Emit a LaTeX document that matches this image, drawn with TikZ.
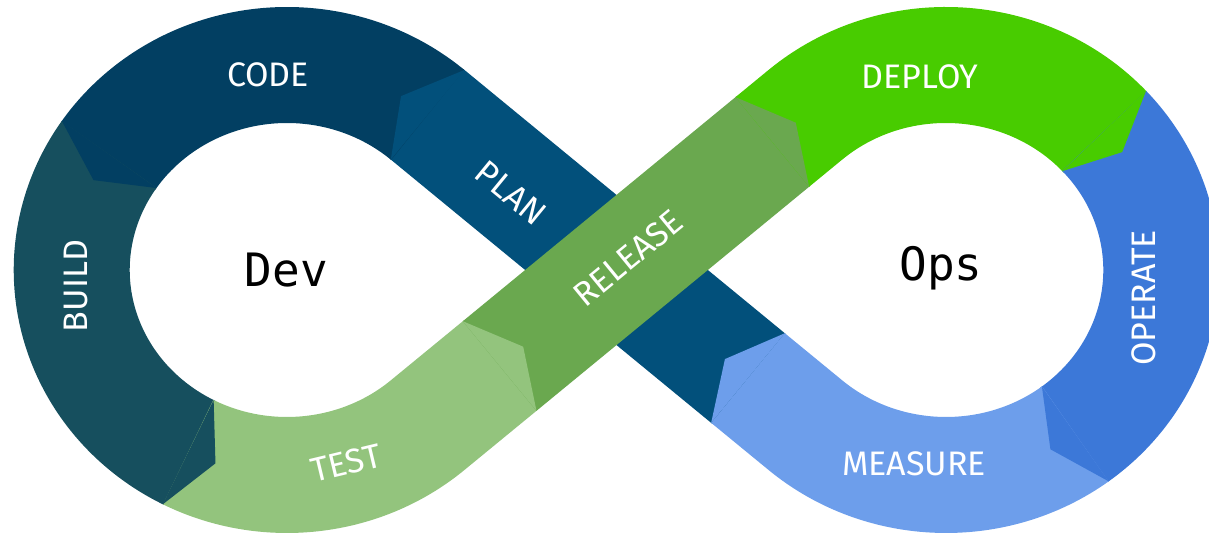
\documentclass[tikz,border=0pt]{standalone}
\usepackage{fontspec}
\setsansfont{Fira Sans}
\newfontfamily\hubfont{DejaVu Sans Mono}
\usetikzlibrary{calc}

\definecolor{codecol}{HTML}{023F62}
\definecolor{plancol}{HTML}{02507B}
\definecolor{buildcol}{HTML}{164F5E}
\definecolor{testcol}{HTML}{93C47D}
\definecolor{releasecol}{HTML}{6AA84F}
\definecolor{deploycol}{HTML}{48CC00}
\definecolor{operatecol}{HTML}{3C78D8}
\definecolor{measurecol}{HTML}{6D9EEB}
\def\hw{58pt}

\begin{document}
\begin{tikzpicture}[x=1pt,y=1pt,
  band/.style={line width=116pt},
  tag/.style={text=white,font=\sffamily\fontsize{34}{34}\selectfont},
  hub/.style={text=black,anchor=base,font=\hubfont\fontsize{46}{46}\selectfont}]
  \useasboundingbox (0,0) rectangle (1209,537);
  \clip (0,0) rectangle (1209,537);
  \begin{scope}[shift={(616.5,267)},xscale=1.05]
    \coordinate (L) at (-313.8,0);
    \coordinate (R) at (313.8,0);
    \draw[band,plancol] (-40.79:167) -- (139.21:239);
    \draw[band,codecol] (L) ++(49.21:205) arc[start angle=49.21,end angle=146.1,radius=205];
    \draw[band,buildcol] (L) ++(145.7:205) arc[start angle=145.7,end angle=243.1,radius=205];
    \draw[band,testcol] (L) ++(242.7:205) arc[start angle=242.7,end angle=310.79,radius=205] -- (220.79:145.5);
    \draw[band,releasecol] (220.79:147) -- (40.79:197.5);
    \draw[band,deploycol] (40.79:196) -- (40.79:237.6) arc[start angle=130.79,end angle=42.3,radius=205];
    \draw[band,operatecol] (R) ++(42.7:205) arc[start angle=42.7,end angle=-53.5,radius=205];
    \draw[band,measurecol] (R) ++(-53.1:205) arc[start angle=-53.1,end angle=-130.79,radius=205] -- (-40.79:165.4);
    \coordinate (plan-b) at (139.21:237.6);
    \coordinate (plan-f) at (139.21:240);
    \path (L) ++(58:205) coordinate (plan-t);
    \path (L) ++(145.7:205) coordinate (code-b) (L) ++(146.2:205) coordinate (code-f) (L) ++(154:205) coordinate (code-t);
    \path (L) ++(242.7:205) coordinate (build-b) (L) ++(243.2:205) coordinate (build-f) (L) ++(250.6:205) coordinate (build-t);
    \coordinate (test-b) at (220.79:147);
    \coordinate (test-f) at (220.79:145);
    \coordinate (test-t) at (220.79:117.4);
    \coordinate (release-b) at (40.79:196);
    \coordinate (release-f) at (40.79:198);
    \coordinate (release-t) at (40.79:225.5);
    \path (R) ++(42.7:205) coordinate (deploy-b) (R) ++(42.2:205) coordinate (deploy-f) (R) ++(35.1:205) coordinate (deploy-t);
    \path (R) ++(-53.1:205) coordinate (operate-b) (R) ++(-53.6:205) coordinate (operate-f) (R) ++(-61:205) coordinate (operate-t);
    \coordinate (measure-b) at (-40.79:165.4);
    \coordinate (measure-f) at (-40.79:163.4);
    \coordinate (measure-t) at (-40.79:136.4);
  \end{scope}
  \foreach \s/\c in {plan/plancol,code/codecol,build/buildcol,test/testcol,release/releasecol,deploy/deploycol,operate/operatecol,measure/measurecol}
    \fill[\c] ($(\s-b)!\hw!90:(\s-f)$) -- (\s-t) -- ($(\s-b)!\hw!-90:(\s-f)$) -- cycle;
  \node[tag] (code) at (268,462) {CODE};
  \node[tag,rotate=-39.4] (plan) at (511,344) {PLAN};
  \node[tag,rotate=90] (build) at (75.5,251) {BUILD};
  \node[tag,rotate=13.5] (test) at (346,74) {TEST};
  \node[tag,rotate=39.4] (release) at (628,279) {RELEASE};
  \node[tag] (deploy) at (920,460) {DEPLOY};
  \node[tag,rotate=90] (operate) at (1144,239) {OPERATE};
  \node[tag] (measure) at (914,73) {MEASURE};
  \node[hub] (dev) at (286.5,250.3) {Dev};
  \node[hub] (ops) at (941,256) {Ops};
\end{tikzpicture}
\end{document}
